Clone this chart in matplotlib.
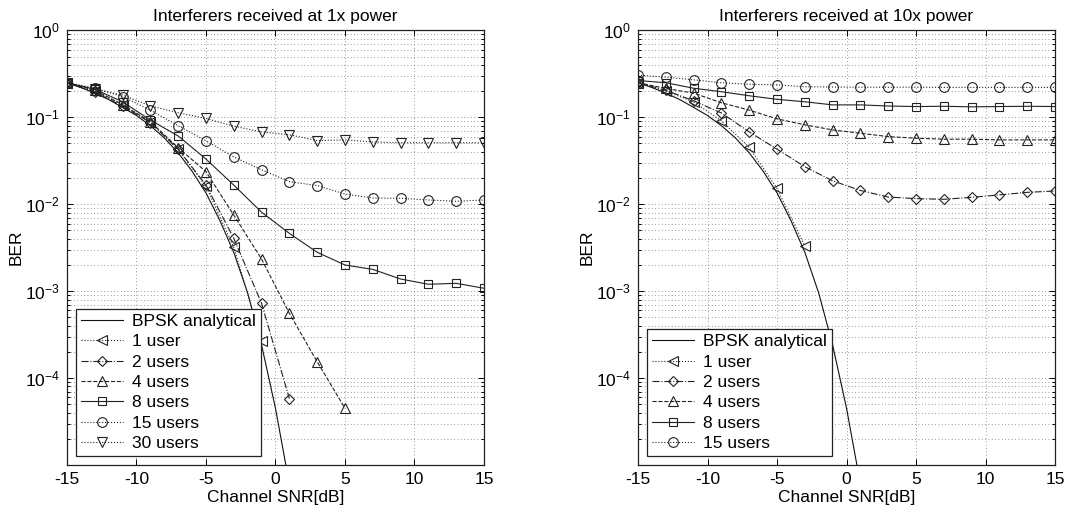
import matplotlib
matplotlib.use('Agg')
import matplotlib.pyplot as plt
from matplotlib.ticker import LogLocator, NullFormatter

plt.rcParams['font.family'] = ['Liberation Sans', 'DejaVu Sans']
plt.rcParams['mathtext.fontset'] = 'custom'
plt.rcParams['mathtext.rm'] = 'Liberation Sans'
plt.rcParams['mathtext.it'] = 'Liberation Sans:italic'
plt.rcParams['axes.unicode_minus'] = False

# x axis (dB): markers every 2 dB
snr = [-15, -13, -11, -9, -7, -5, -3, -1, 1, 3, 5, 7, 9, 11, 13, 15]

# analytical BPSK curve
bpsk_snr = [-15, -14, -13, -12, -11, -10, -9, -8, -7, -6, -5, -4, -3, -2, -1, 0, 1]
bpsk_ber = [0.25, 0.22, 0.19, 0.16, 0.13, 0.105, 0.08, 0.058, 0.039, 0.024,
            0.0135, 0.0065, 0.0028, 0.00095, 0.00024, 4.5e-5, 6e-6]

# left panel: interferers at 1x power
left_1user = [0.25, 0.20, 0.14, 0.088, 0.043, 0.016, 0.0032, 0.00027]
left_2users = [0.25, 0.195, 0.135, 0.087, 0.043, 0.0166, 0.00405, 0.000724, 5.8e-5]
left_4users = [0.25, 0.205, 0.14, 0.089, 0.0447, 0.0237, 0.0075, 0.00234, 0.000556,
               0.000154, 4.5e-5]
left_8users = [0.25, 0.21, 0.151, 0.093, 0.061, 0.0331, 0.0166, 0.0081, 0.00462,
               0.0028, 0.0020, 0.00178, 0.00138, 0.0012, 0.00123, 0.00108]
left_15users = [0.25, 0.218, 0.173, 0.121, 0.080, 0.0537, 0.035, 0.0249, 0.0182,
                0.0164, 0.0131, 0.0118, 0.0117, 0.0112, 0.0108, 0.0112]
left_30users = [0.25, 0.21, 0.181, 0.135, 0.113, 0.097, 0.079, 0.068, 0.063,
                0.054, 0.055, 0.052, 0.051, 0.051, 0.051, 0.051]

# right panel: interferers at 10x power
right_1user = [0.25, 0.20, 0.15, 0.091, 0.045, 0.0152, 0.0033]
right_2users = [0.25, 0.205, 0.155, 0.112, 0.068, 0.043, 0.027, 0.0186, 0.0144,
                0.0121, 0.0116, 0.0114, 0.012, 0.0128, 0.0137, 0.0142]
right_4users = [0.25, 0.215, 0.19, 0.147, 0.121, 0.096, 0.082, 0.0716, 0.0656,
                0.060, 0.0575, 0.056, 0.056, 0.055, 0.055, 0.055]
right_8users = [0.265, 0.25, 0.216, 0.197, 0.177, 0.161, 0.151, 0.139, 0.139,
                0.135, 0.133, 0.134, 0.132, 0.133, 0.134, 0.133]
right_15users = [0.305, 0.29, 0.27, 0.25, 0.24, 0.236, 0.225, 0.223, 0.222,
                 0.222, 0.222, 0.221, 0.221, 0.221, 0.221, 0.221]

titles = ['Interferers received at 1x power', 'Interferers received at 10x power']

left_series = [
    ('1 user', left_1user, ':', '<'),
    ('2 users', left_2users, '-.', 'D'),
    ('4 users', left_4users, '--', '^'),
    ('8 users', left_8users, '-', 's'),
    ('15 users', left_15users, ':', 'o'),
    ('30 users', left_30users, ':', 'v'),
]
right_series = [
    ('1 user', right_1user, ':', '<'),
    ('2 users', right_2users, '-.', 'D'),
    ('4 users', right_4users, '--', '^'),
    ('8 users', right_8users, '-', 's'),
    ('15 users', right_15users, ':', 'o'),
]
msize = {'<': 7.5, 'D': 5.5, '^': 7.5, 's': 6.3, 'o': 7, 'v': 7.5}

FS = 12.5
fig = plt.figure(figsize=(10.7, 5.17), dpi=100)
ax1 = fig.add_axes([0.0626, 0.1006, 0.3897, 0.8406])
ax2 = fig.add_axes([0.5963, 0.1006, 0.3897, 0.8406])

for ax, series, title in [(ax1, left_series, titles[0]), (ax2, right_series, titles[1])]:
    ax.set_yscale('log')
    ax.plot(bpsk_snr, bpsk_ber, '-', color='#111111', lw=0.8, label='BPSK analytical')
    for name, vals, ls, mk in series:
        ax.plot(snr[:len(vals)], vals, linestyle=ls, marker=mk, color='#222222',
                lw=0.8, ms=msize[mk], mfc='none', mec='#222222', mew=0.8, label=name)
    ax.set_xlim(-15, 15)
    ax.set_ylim(1e-5, 1)
    ax.set_xticks([-15, -10, -5, 0, 5, 10, 15])
    ax.set_yticks([1e-4, 1e-3, 1e-2, 1e-1, 1])
    ax.yaxis.set_minor_locator(LogLocator(base=10, subs=range(2, 10), numticks=20))
    ax.yaxis.set_minor_formatter(NullFormatter())
    ax.tick_params(which='both', direction='in', top=True, right=True,
                   labelsize=FS, pad=5, width=0.7)
    ax.tick_params(which='major', length=4)
    ax.tick_params(which='minor', length=2.5)
    ax.grid(True, which='major', axis='both', color='#777777',
            linestyle=(0, (1, 3)), lw=0.6)
    ax.grid(True, which='minor', axis='y', color='#777777',
            linestyle=(0, (1, 3)), lw=0.6)
    ax.set_axisbelow(True)
    for sp in ax.spines.values():
        sp.set_linewidth(0.9)
        sp.set_color('#222222')
    ax.set_title(title, fontsize=FS, pad=7)
    ax.set_xlabel('Channel SNR[dB]', fontsize=FS, labelpad=2)
    ax.set_ylabel('BER', fontsize=FS, labelpad=1)
    leg = ax.legend(loc='lower left', fontsize=FS, numpoints=1, fancybox=False,
                    framealpha=1, edgecolor='#222222', labelspacing=0.3,
                    handlelength=2.4, handletextpad=0.55, borderpad=0.3,
                    borderaxespad=0.5)
    leg.get_frame().set_linewidth(0.9)

fig.savefig('out.png', dpi=100)
